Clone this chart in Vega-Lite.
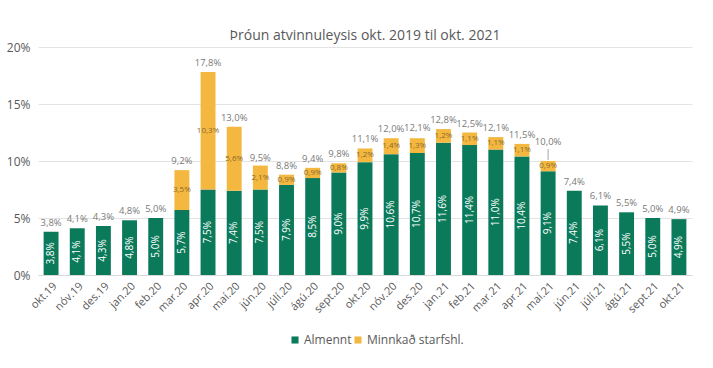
{
  "$schema": "https://vega.github.io/schema/vega-lite/v6.json",
  "width": 654,
  "height": 228,
  "autosize": {"type": "none"},
  "padding": {"left": 38, "top": 47, "right": 21, "bottom": 93},
  "title": {"text": "Þróun atvinnuleysis  okt. 2019 til okt. 2021", "fontSize": 14, "font": "Open Sans", "fontWeight": "normal", "color": "#595959", "offset": -2, "anchor": "middle"},
  "config": {
    "locale": {"number": {"decimal": ",", "thousands": ".", "grouping": [3], "currency": ["", " kr."]}},
    "view": {"stroke": null},
    "font": "Open Sans"
  },
  "datasets": {
    "hlutar": [
      {"manudur": "okt.19", "flokkur": "Almennt", "hlutfall": 0.038},
      {"manudur": "nóv.19", "flokkur": "Almennt", "hlutfall": 0.041},
      {"manudur": "des.19", "flokkur": "Almennt", "hlutfall": 0.043},
      {"manudur": "jan.20", "flokkur": "Almennt", "hlutfall": 0.048},
      {"manudur": "feb.20", "flokkur": "Almennt", "hlutfall": 0.050},
      {"manudur": "mar.20", "flokkur": "Almennt", "hlutfall": 0.057},
      {"manudur": "apr.20", "flokkur": "Almennt", "hlutfall": 0.075},
      {"manudur": "maí.20", "flokkur": "Almennt", "hlutfall": 0.074},
      {"manudur": "jún.20", "flokkur": "Almennt", "hlutfall": 0.075},
      {"manudur": "júlí.20", "flokkur": "Almennt", "hlutfall": 0.079},
      {"manudur": "ágú.20", "flokkur": "Almennt", "hlutfall": 0.085},
      {"manudur": "sept.20", "flokkur": "Almennt", "hlutfall": 0.090},
      {"manudur": "okt.20", "flokkur": "Almennt", "hlutfall": 0.099},
      {"manudur": "nóv.20", "flokkur": "Almennt", "hlutfall": 0.106},
      {"manudur": "des.20", "flokkur": "Almennt", "hlutfall": 0.107},
      {"manudur": "jan.21", "flokkur": "Almennt", "hlutfall": 0.116},
      {"manudur": "feb.21", "flokkur": "Almennt", "hlutfall": 0.114},
      {"manudur": "mar.21", "flokkur": "Almennt", "hlutfall": 0.110},
      {"manudur": "apr.21", "flokkur": "Almennt", "hlutfall": 0.104},
      {"manudur": "maí.21", "flokkur": "Almennt", "hlutfall": 0.091},
      {"manudur": "jún.21", "flokkur": "Almennt", "hlutfall": 0.074},
      {"manudur": "júlí.21", "flokkur": "Almennt", "hlutfall": 0.061},
      {"manudur": "ágú.21", "flokkur": "Almennt", "hlutfall": 0.055},
      {"manudur": "sept.21", "flokkur": "Almennt", "hlutfall": 0.050},
      {"manudur": "okt.21", "flokkur": "Almennt", "hlutfall": 0.049},
      {"manudur": "mar.20", "flokkur": "Minnkað starfshl.", "hlutfall": 0.035},
      {"manudur": "apr.20", "flokkur": "Minnkað starfshl.", "hlutfall": 0.103},
      {"manudur": "maí.20", "flokkur": "Minnkað starfshl.", "hlutfall": 0.056},
      {"manudur": "jún.20", "flokkur": "Minnkað starfshl.", "hlutfall": 0.021},
      {"manudur": "júlí.20", "flokkur": "Minnkað starfshl.", "hlutfall": 0.009},
      {"manudur": "ágú.20", "flokkur": "Minnkað starfshl.", "hlutfall": 0.009},
      {"manudur": "sept.20", "flokkur": "Minnkað starfshl.", "hlutfall": 0.008},
      {"manudur": "okt.20", "flokkur": "Minnkað starfshl.", "hlutfall": 0.012},
      {"manudur": "nóv.20", "flokkur": "Minnkað starfshl.", "hlutfall": 0.014},
      {"manudur": "des.20", "flokkur": "Minnkað starfshl.", "hlutfall": 0.013},
      {"manudur": "jan.21", "flokkur": "Minnkað starfshl.", "hlutfall": 0.012},
      {"manudur": "feb.21", "flokkur": "Minnkað starfshl.", "hlutfall": 0.011},
      {"manudur": "mar.21", "flokkur": "Minnkað starfshl.", "hlutfall": 0.011},
      {"manudur": "apr.21", "flokkur": "Minnkað starfshl.", "hlutfall": 0.011},
      {"manudur": "maí.21", "flokkur": "Minnkað starfshl.", "hlutfall": 0.009}
    ],
    "samtals": [
      {"manudur": "okt.19", "samtals": 0.038},
      {"manudur": "nóv.19", "samtals": 0.041},
      {"manudur": "des.19", "samtals": 0.043},
      {"manudur": "jan.20", "samtals": 0.048},
      {"manudur": "feb.20", "samtals": 0.050},
      {"manudur": "mar.20", "samtals": 0.092},
      {"manudur": "apr.20", "samtals": 0.178},
      {"manudur": "maí.20", "samtals": 0.130},
      {"manudur": "jún.20", "samtals": 0.095},
      {"manudur": "júlí.20", "samtals": 0.088},
      {"manudur": "ágú.20", "samtals": 0.094},
      {"manudur": "sept.20", "samtals": 0.098},
      {"manudur": "okt.20", "samtals": 0.111},
      {"manudur": "nóv.20", "samtals": 0.120},
      {"manudur": "des.20", "samtals": 0.121},
      {"manudur": "jan.21", "samtals": 0.128},
      {"manudur": "feb.21", "samtals": 0.125},
      {"manudur": "mar.21", "samtals": 0.121},
      {"manudur": "apr.21", "samtals": 0.115},
      {"manudur": "maí.21", "samtals": 0.100},
      {"manudur": "jún.21", "samtals": 0.074},
      {"manudur": "júlí.21", "samtals": 0.061},
      {"manudur": "ágú.21", "samtals": 0.055},
      {"manudur": "sept.21", "samtals": 0.050},
      {"manudur": "okt.21", "samtals": 0.049}
    ]
  },
  "encoding": {
    "x": {
      "field": "manudur", "type": "nominal", "sort": null, "title": null,
      "scale": {"paddingInner": 0.43, "paddingOuter": 0.215},
      "axis": {"labelAngle": -45, "labelFontSize": 11, "labelColor": "#595959", "ticks": false, "domainColor": "#d9d9d9", "labelPadding": 5}
    }
  },
  "layer": [
    {
      "data": {"name": "hlutar"},
      "mark": {"type": "bar"},
      "encoding": {
        "y": {
          "field": "hlutfall", "type": "quantitative", "stack": "zero", "title": null,
          "scale": {"domain": [0, 0.2]},
          "axis": {"format": ".0%", "values": [0, 0.05, 0.1, 0.15, 0.2], "ticks": false, "domain": false, "gridColor": "#e3e3e3", "labelFontSize": 12, "labelColor": "#595959", "labelPadding": 8}
        },
        "color": {
          "field": "flokkur", "type": "nominal",
          "scale": {"domain": ["Almennt", "Minnkað starfshl."], "range": ["#0b7a5a", "#f4b841"]},
          "legend": {"title": null, "orient": "none", "direction": "horizontal", "legendX": 251, "legendY": 287, "symbolType": "square", "symbolSize": 50, "symbolStrokeWidth": 0, "labelFontSize": 12, "labelColor": "#595959", "labelOffset": 3, "columnPadding": -25}
        },
        "order": {"field": "flokkur", "sort": "ascending"}
      }
    },
    {
      "data": {"name": "hlutar"},
      "transform": [
        {"stack": "hlutfall", "groupby": ["manudur"], "sort": [{"field": "flokkur", "order": "ascending"}], "as": ["y0", "y1"]},
        {"calculate": "(datum.y0 + datum.y1) / 2", "as": "midja"},
        {"filter": "datum.flokkur == 'Almennt'"}
      ],
      "mark": {"type": "text", "angle": 270, "color": "white", "fontSize": 10, "align": "center", "baseline": "middle"},
      "encoding": {
        "y": {"field": "midja", "type": "quantitative"},
        "text": {"field": "hlutfall", "type": "quantitative", "format": ".1%"}
      }
    },
    {
      "data": {"name": "hlutar"},
      "transform": [
        {"stack": "hlutfall", "groupby": ["manudur"], "sort": [{"field": "flokkur", "order": "ascending"}], "as": ["y0", "y1"]},
        {"calculate": "(datum.y0 + datum.y1) / 2", "as": "midja"},
        {"filter": "datum.flokkur != 'Almennt'"}
      ],
      "mark": {"type": "text", "color": "#8a6a2a", "fontSize": 8, "align": "center", "baseline": "middle"},
      "encoding": {
        "y": {"field": "midja", "type": "quantitative"},
        "text": {"field": "hlutfall", "type": "quantitative", "format": ".1%"}
      }
    },
    {
      "data": {"name": "samtals"},
      "transform": [{"filter": "datum.manudur != 'maí.21'"}],
      "mark": {"type": "text", "color": "#7a7a7a", "fontSize": 9.5, "align": "center", "baseline": "bottom", "dy": -4},
      "encoding": {
        "y": {"field": "samtals", "type": "quantitative"},
        "text": {"field": "samtals", "type": "quantitative", "format": ".1%"}
      }
    },
    {
      "data": {"name": "samtals"},
      "transform": [{"filter": "datum.manudur == 'maí.21'"}],
      "mark": {"type": "text", "color": "#7a7a7a", "fontSize": 9.5, "align": "center", "baseline": "bottom", "dy": -14},
      "encoding": {
        "y": {"field": "samtals", "type": "quantitative"},
        "text": {"field": "samtals", "type": "quantitative", "format": ".1%"}
      }
    },
    {
      "data": {"name": "samtals"},
      "transform": [{"filter": "datum.manudur == 'maí.21'"}],
      "mark": {"type": "rule", "color": "#a6a6a6", "strokeWidth": 1, "yOffset": -1, "y2Offset": -12},
      "encoding": {
        "y": {"field": "samtals", "type": "quantitative"},
        "y2": {"field": "samtals"}
      }
    }
  ]
}
